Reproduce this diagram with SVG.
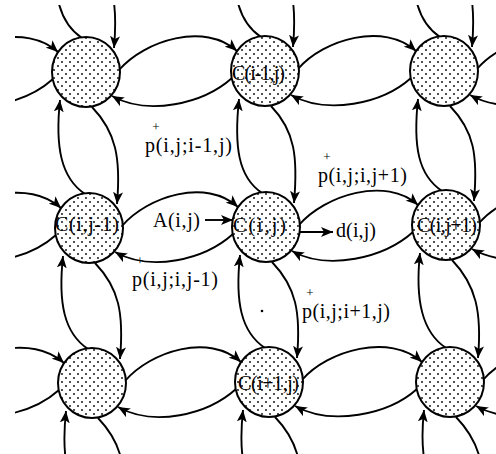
<svg xmlns="http://www.w3.org/2000/svg" width="496" height="454" viewBox="0 0 496 454">
<style>
.c{fill:none;stroke:#000;stroke-width:1.9;marker-end:url(#ah)}
.n{fill:url(#dots);stroke:#000;stroke-width:2}
.t{font-family:"Liberation Serif","Times New Roman",serif;font-size:20px;fill:#000}
.pl{font-family:"Liberation Serif","Times New Roman",serif;font-size:13px;fill:#000;text-anchor:middle}
</style>
<defs>
<pattern id="dots" width="8" height="8" patternUnits="userSpaceOnUse">
<rect width="8" height="8" fill="#fff"/>
<circle cx="2" cy="2" r="0.9" fill="#000"/>
<circle cx="6" cy="6" r="0.9" fill="#000"/>
</pattern>
<marker id="ah" viewBox="0 0 12 10" refX="12" refY="5" markerWidth="12" markerHeight="10" markerUnits="userSpaceOnUse" orient="auto">
<path d="M0,0 L12,5 L0,10 L3,5 z" fill="#000"/>
</marker>
<clipPath id="clip"><rect x="15" y="5" width="481" height="449"/></clipPath>
</defs>
<rect width="496" height="454" fill="#fff"/>
<g id="connectors" clip-path="url(#clip)">
<path class="c" d="M-60,70 C-34,40 26,23 58,52"/>
<path class="c" d="M53,79 C24,105 -31,116 -67,96"/>
<path class="c" d="M119,70 C145,40 205,22 237,51"/>
<path class="c" d="M232,78 C203,104 148,116 112,96"/>
<path class="c" d="M298,69 C324,39 384,22 416,51"/>
<path class="c" d="M411,78 C382,104 327,115 291,95"/>
<path class="c" d="M477,69 C503,39 563,22 595,51"/>
<path class="c" d="M590,78 C561,104 506,115 470,95"/>
<path class="c" d="M-57,225 C-31,195 29,179 61,208"/>
<path class="c" d="M56,235 C27,261 -28,271 -64,251"/>
<path class="c" d="M122,226 C148,196 206,178 238,207"/>
<path class="c" d="M233,234 C204,260 151,272 115,252"/>
<path class="c" d="M299,225 C325,195 386,176 418,205"/>
<path class="c" d="M413,232 C384,258 328,271 292,251"/>
<path class="c" d="M479,223 C505,193 566,176 598,205"/>
<path class="c" d="M593,232 C564,258 508,269 472,249"/>
<path class="c" d="M-54,380 C-28,350 32,334 64,363"/>
<path class="c" d="M59,390 C30,416 -25,426 -61,406"/>
<path class="c" d="M125,381 C151,351 209,333 241,362"/>
<path class="c" d="M236,389 C207,415 154,427 118,407"/>
<path class="c" d="M302,380 C328,350 390,333 422,362"/>
<path class="c" d="M417,389 C388,415 331,426 295,406"/>
<path class="c" d="M483,380 C509,350 569,333 601,362"/>
<path class="c" d="M596,389 C567,415 512,426 476,406"/>
<path class="c" d="M82,38 C58,22 52,-9 57,-56"/>
<path class="c" d="M89,-49 C113,-24 118,2 114,48"/>
<path class="c" d="M85,194 C61,178 55,147 60,100"/>
<path class="c" d="M92,107 C116,132 121,158 117,204"/>
<path class="c" d="M88,349 C64,333 58,303 63,256"/>
<path class="c" d="M95,263 C119,288 124,313 120,359"/>
<path class="c" d="M91,504 C67,488 61,458 66,411"/>
<path class="c" d="M98,418 C122,443 127,468 123,514"/>
<path class="c" d="M261,37 C237,21 231,-10 236,-57"/>
<path class="c" d="M268,-50 C292,-25 297,1 293,47"/>
<path class="c" d="M262,193 C238,177 234,146 239,99"/>
<path class="c" d="M271,106 C295,131 298,157 294,203"/>
<path class="c" d="M265,348 C241,332 235,302 240,255"/>
<path class="c" d="M272,262 C296,287 301,312 297,358"/>
<path class="c" d="M268,503 C244,487 238,457 243,410"/>
<path class="c" d="M275,417 C299,442 304,467 300,513"/>
<path class="c" d="M440,37 C416,21 410,-10 415,-57"/>
<path class="c" d="M447,-50 C471,-25 476,1 472,47"/>
<path class="c" d="M442,191 C418,175 413,146 418,99"/>
<path class="c" d="M450,106 C474,131 478,155 474,201"/>
<path class="c" d="M446,348 C422,332 415,300 420,253"/>
<path class="c" d="M452,260 C476,285 482,312 478,358"/>
<path class="c" d="M450,503 C426,487 419,457 424,410"/>
<path class="c" d="M456,417 C480,442 486,467 482,513"/>
<path class="c" d="M205,220 L233,220"/>
<path class="c" d="M300,232 L333,232"/>
</g>
<g id="n11"><ellipse class="n" cx="86" cy="72" rx="34" ry="35"/></g>
<g id="n-c-im1-j"><ellipse class="n" cx="265" cy="71" rx="34" ry="35"/><text class="t" x="232" y="80" textLength="53" lengthAdjust="spacing">C(i-1,j)</text></g>
<g id="n13"><ellipse class="n" cx="444" cy="71" rx="34" ry="35"/></g>
<g id="n-c-i-jm1"><ellipse class="n" cx="89" cy="228" rx="34" ry="35"/><text class="t" x="55" y="231" textLength="64" lengthAdjust="spacing">C(i,j-1)</text></g>
<g id="n-c-i-j"><ellipse class="n" cx="266" cy="227" rx="34" ry="35"/><text class="t" x="233" y="232" textLength="53" lengthAdjust="spacing">C(i,j)</text></g>
<g id="n-c-i-jp1"><ellipse class="n" cx="446" cy="225" rx="34" ry="35"/><text class="t" x="417" y="232" textLength="60" lengthAdjust="spacing">C(i,j+1)</text></g>
<g id="n31"><ellipse class="n" cx="92" cy="383" rx="34" ry="35"/></g>
<g id="n-c-ip1-j"><ellipse class="n" cx="269" cy="382" rx="34" ry="35"/><text class="t" x="238" y="390" textLength="61" lengthAdjust="spacing">C(i+1,j)</text></g>
<g id="n33"><ellipse class="n" cx="450" cy="382" rx="34" ry="35"/></g>
<g id="labels">
<text class="t" x="153" y="227" textLength="47" lengthAdjust="spacing">A(i,j)</text>
<text class="t" x="336" y="237" textLength="40" lengthAdjust="spacing">d(i,j)</text>
<text class="pl" x="156" y="131">+</text>
<text class="t" x="145" y="152" textLength="87" lengthAdjust="spacing">p(i,j;i-1,j)</text>
<text class="pl" x="327" y="161">+</text>
<text class="t" x="318" y="182" textLength="89" lengthAdjust="spacing">p(i,j;i,j+1)</text>
<text class="pl" x="140" y="265">+</text>
<text class="t" x="132" y="286" textLength="86" lengthAdjust="spacing">p(i,j;i,j-1)</text>
<text class="pl" x="310" y="297">+</text>
<text class="t" x="302" y="318" textLength="88" lengthAdjust="spacing">p(i,j;i+1,j)</text>
<circle cx="262" cy="311" r="1.3" fill="#000"/>
</g>
</svg>
